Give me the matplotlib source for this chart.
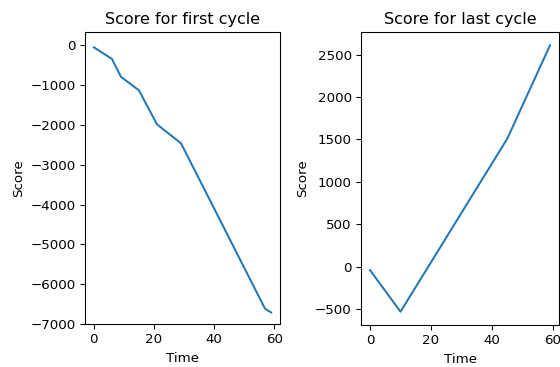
import matplotlib
matplotlib.use("Agg")
import matplotlib.pyplot as plt

# score curve for the first cycle
first_time = [0, 6, 9, 15, 21, 29, 57, 59]
first_score = [-50, -340, -790, -1130, -1985, -2460, -6620, -6710]

# score curve for the last cycle
last_time = [0, 10, 45, 59]
last_score = [-40, -530, 1510, 2610]

fig = plt.figure(figsize=(560 / 96, 367 / 96), dpi=96)

ax1 = fig.add_axes([85 / 560, 1 - 324 / 367, 195 / 560, 292 / 367])
ax1.plot(first_time, first_score)
ax1.set_title("Score for first cycle")
ax1.set_xlabel("Time")
ax1.set_ylabel("Score")
ax1.set_xlim(-2.95, 61.95)
ax1.set_ylim(-7000, 335)
ax1.set_xticks([0, 20, 40, 60])
ax1.set_yticks(range(-7000, 1, 1000))

ax2 = fig.add_axes([361 / 560, 1 - 325 / 367, 198 / 560, 293 / 367])
ax2.plot(last_time, last_score)
ax2.set_title("Score for last cycle")
ax2.set_xlabel("Time")
ax2.set_ylabel("Score")
ax2.set_xlim(-2.95, 61.95)
ax2.set_ylim(-687, 2767)
ax2.set_xticks([0, 20, 40, 60])

fig.savefig("out.png", dpi=96)
